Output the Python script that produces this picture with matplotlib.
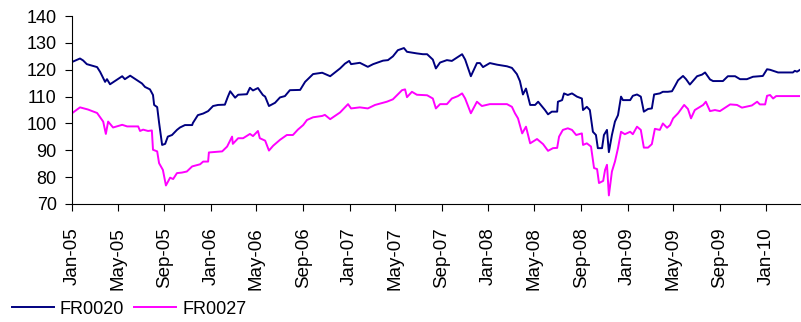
import matplotlib
matplotlib.use("Agg")
import matplotlib.pyplot as plt
import matplotlib.dates as mdates
import pandas as pd

plt.rcParams['font.family'] = ['Liberation Sans', 'DejaVu Sans']

# weekly-ish closing prices of the two government bonds
fr0020_dates = [
    "2005-01-01", "2005-01-22", "2005-01-30", "2005-02-09", "2005-03-08", "2005-03-16",
    "2005-03-29", "2005-04-03", "2005-04-11", "2005-04-24", "2005-05-13", "2005-05-20",
    "2005-06-03", "2005-06-21", "2005-07-04", "2005-07-12", "2005-07-25", "2005-08-02",
    "2005-08-05", "2005-08-13", "2005-08-18", "2005-08-26", "2005-09-03", "2005-09-10",
    "2005-09-21", "2005-10-04", "2005-10-12", "2005-10-25", "2005-11-13", "2005-11-15",
    "2005-11-28", "2005-12-12", "2005-12-25", "2006-01-07", "2006-01-20", "2006-02-07",
    "2006-02-15", "2006-02-21", "2006-03-06", "2006-03-14", "2006-04-06", "2006-04-14",
    "2006-04-22", "2006-05-05", "2006-05-18", "2006-05-24", "2006-06-03", "2006-06-19",
    "2006-07-02", "2006-07-15", "2006-07-28", "2006-08-24", "2006-09-06", "2006-09-27",
    "2006-10-21", "2006-11-11", "2006-12-07", "2006-12-20", "2006-12-31", "2007-01-05",
    "2007-01-28", "2007-02-18", "2007-03-04", "2007-03-30", "2007-04-12", "2007-04-25",
    "2007-05-08", "2007-05-24", "2007-06-01", "2007-06-27", "2007-07-13", "2007-07-24",
    "2007-08-08", "2007-08-16", "2007-08-27", "2007-09-14", "2007-09-27", "2007-10-11",
    "2007-10-24", "2007-11-01", "2007-11-16", "2007-12-02", "2007-12-10", "2007-12-18",
    "2008-01-05", "2008-01-24", "2008-02-19", "2008-03-03", "2008-03-16", "2008-03-24",
    "2008-04-01", "2008-04-09", "2008-04-20", "2008-05-03", "2008-05-11", "2008-05-29",
    "2008-06-06", "2008-06-16", "2008-06-30", "2008-07-02", "2008-07-13", "2008-07-18",
    "2008-07-28", "2008-08-08", "2008-08-21", "2008-09-03", "2008-09-06", "2008-09-16",
    "2008-09-24", "2008-10-02", "2008-10-10", "2008-10-15", "2008-10-26", "2008-10-31",
    "2008-11-08", "2008-11-13", "2008-11-21", "2008-11-29", "2008-12-07", "2008-12-15",
    "2008-12-20", "2009-01-08", "2009-01-15", "2009-01-26", "2009-02-05", "2009-02-13",
    "2009-02-24", "2009-03-06", "2009-03-12", "2009-03-27", "2009-04-04", "2009-04-17",
    "2009-04-28", "2009-05-06", "2009-05-14", "2009-05-27", "2009-06-04", "2009-06-14",
    "2009-07-03", "2009-07-16", "2009-07-24", "2009-08-06", "2009-08-14", "2009-09-09",
    "2009-09-22", "2009-10-11", "2009-10-24", "2009-11-11", "2009-11-27", "2009-12-23",
    "2010-01-03", "2010-01-11", "2010-02-01", "2010-03-12", "2010-03-17", "2010-03-23",
    "2010-03-31",
]
fr0020 = [
    122.9, 124.2, 123.5, 122.1, 121.0, 119.2,
    115.5, 116.5, 114.6, 115.8, 117.6, 116.5,
    117.8, 116.1, 114.9, 113.6, 112.7, 110.6,
    106.9, 106.1, 100.3, 92.0, 92.4, 95.1,
    95.7, 97.6, 98.5, 99.4, 99.4, 100.2,
    103.1, 103.7, 104.6, 106.5, 106.9, 107.0,
    110.0, 112.0, 109.6, 110.7, 110.9, 113.3,
    112.3, 113.2, 110.6, 110.0, 106.5, 107.7,
    109.7, 110.2, 112.4, 112.5, 115.5, 118.4,
    118.9, 117.6, 120.5, 122.3, 123.3, 122.1,
    122.6, 121.1, 122.1, 123.4, 123.6, 125.0,
    127.3, 128.1, 126.7, 126.1, 125.8, 125.8,
    123.8, 120.5, 122.7, 123.6, 123.3, 124.6,
    125.8, 123.8, 117.6, 122.5, 122.5, 121.0,
    122.5, 121.9, 121.3, 120.7, 118.4, 115.8,
    110.8, 113.0, 106.9, 106.9, 108.1, 105.0,
    103.4, 104.4, 104.4, 108.1, 108.7, 111.2,
    110.6, 111.2, 110.0, 109.3, 105.0, 106.2,
    105.0, 96.9, 95.7, 90.8, 90.8, 95.7,
    97.6, 89.3, 95.7, 100.7, 103.1, 110.0,
    108.7, 108.7, 110.3, 110.8, 110.0, 104.4,
    105.4, 105.6, 110.8, 111.2, 111.8, 111.8,
    112.0, 114.0, 116.1, 117.7, 116.5, 114.5,
    117.6, 118.2, 119.0, 116.4, 115.8, 115.8,
    117.6, 117.6, 116.5, 116.5, 117.4, 117.7,
    120.2, 120.0, 119.0, 119.0, 119.6, 119.3,
    120.0,
]

fr0027_dates = [
    "2005-01-01", "2005-01-22", "2005-02-12", "2005-03-08", "2005-03-16", "2005-03-24",
    "2005-03-31", "2005-04-06", "2005-04-19", "2005-05-13", "2005-05-26", "2005-06-24",
    "2005-06-29", "2005-07-07", "2005-07-20", "2005-07-30", "2005-08-02", "2005-08-13",
    "2005-08-18", "2005-08-28", "2005-09-05", "2005-09-16", "2005-09-24", "2005-10-04",
    "2005-10-17", "2005-10-30", "2005-11-13", "2005-12-04", "2005-12-12", "2005-12-25",
    "2005-12-27", "2006-01-31", "2006-02-13", "2006-02-26", "2006-02-28", "2006-03-14",
    "2006-03-27", "2006-04-14", "2006-04-22", "2006-05-05", "2006-05-10", "2006-05-24",
    "2006-06-03", "2006-06-14", "2006-07-02", "2006-07-20", "2006-08-05", "2006-08-18",
    "2006-09-01", "2006-09-11", "2006-09-27", "2006-10-21", "2006-10-28", "2006-11-11",
    "2006-12-07", "2006-12-28", "2007-01-05", "2007-01-28", "2007-02-18", "2007-03-09",
    "2007-04-09", "2007-04-25", "2007-05-19", "2007-05-27", "2007-06-01", "2007-06-14",
    "2007-06-27", "2007-07-24", "2007-08-08", "2007-08-16", "2007-08-27", "2007-09-14",
    "2007-09-27", "2007-10-13", "2007-10-24", "2007-11-01", "2007-11-16", "2007-12-02",
    "2007-12-15", "2008-01-05", "2008-02-19", "2008-03-03", "2008-03-11", "2008-03-19",
    "2008-03-30", "2008-04-09", "2008-04-20", "2008-05-08", "2008-05-24", "2008-06-06",
    "2008-06-19", "2008-06-30", "2008-07-05", "2008-07-15", "2008-07-28", "2008-08-08",
    "2008-08-19", "2008-09-03", "2008-09-06", "2008-09-16", "2008-09-27", "2008-10-05",
    "2008-10-13", "2008-10-18", "2008-10-29", "2008-11-03", "2008-11-08", "2008-11-13",
    "2008-11-21", "2008-11-29", "2008-12-07", "2008-12-15", "2008-12-25", "2009-01-08",
    "2009-01-15", "2009-01-26", "2009-02-05", "2009-02-13", "2009-02-24", "2009-03-06",
    "2009-03-14", "2009-03-27", "2009-04-04", "2009-04-15", "2009-04-23", "2009-05-01",
    "2009-05-14", "2009-05-30", "2009-06-09", "2009-06-17", "2009-06-27", "2009-07-19",
    "2009-07-26", "2009-08-06", "2009-08-19", "2009-09-01", "2009-09-28", "2009-10-16",
    "2009-10-29", "2009-11-11", "2009-11-24", "2009-12-08", "2009-12-15", "2009-12-29",
    "2010-01-03", "2010-01-11", "2010-01-19", "2010-01-27", "2010-03-31",
]
fr0027 = [
    103.8, 106.0, 105.2, 103.9, 102.3, 100.7,
    96.1, 100.7, 98.5, 99.5, 98.9, 98.9,
    97.2, 97.7, 97.2, 97.4, 90.2, 89.6,
    85.2, 82.7, 76.9, 79.8, 79.3, 81.5,
    81.7, 82.1, 84.0, 84.8, 85.8, 85.8,
    89.2, 89.6, 91.4, 95.1, 92.4, 94.5,
    94.5, 96.1, 95.3, 97.2, 94.5, 93.6,
    89.9, 91.7, 93.9, 95.7, 95.7, 97.7,
    99.4, 101.3, 102.3, 102.8, 103.2, 101.6,
    104.1, 107.2, 105.6, 106.0, 105.6, 106.9,
    108.1, 109.0, 112.4, 112.7, 109.8, 111.8,
    110.7, 110.5, 109.3, 105.6, 107.2, 107.2,
    109.3, 110.2, 111.2, 109.3, 103.8, 108.1,
    106.5, 107.2, 107.2, 106.2, 103.8, 101.9,
    96.3, 98.8, 92.6, 94.2, 92.3, 89.8,
    90.8, 90.9, 95.1, 97.6, 98.2, 97.6,
    95.7, 96.3, 92.0, 92.6, 91.4, 83.4,
    83.0, 77.8, 78.6, 82.7, 84.6, 73.2,
    82.1, 85.8, 90.8, 96.9, 96.0, 96.9,
    96.0, 98.8, 97.6, 91.0, 91.0, 92.3,
    98.0, 97.6, 100.0, 98.4, 99.4, 101.9,
    103.8, 106.9, 105.4, 101.9, 105.0, 106.9,
    108.1, 104.6, 105.0, 104.6, 107.1, 106.9,
    105.9, 106.3, 106.7, 108.1, 107.1, 107.1,
    110.3, 110.6, 109.3, 110.2, 110.2,
]

fig = plt.figure(figsize=(8.01, 3.22), dpi=100)
ax = fig.add_axes([0.0899, 0.3665, 0.909, 0.5835])

ax.plot(pd.to_datetime(fr0020_dates), fr0020, color="#000080", lw=1.4, label="FR0020")
ax.plot(pd.to_datetime(fr0027_dates), fr0027, color="#ff00ff", lw=1.4, label="FR0027")

ax.set_ylim(70, 140)
ax.set_yticks(range(70, 141, 10))
ax.set_xlim(pd.Timestamp("2005-01-01"), pd.Timestamp("2010-03-31"))
ax.xaxis.set_major_locator(mdates.MonthLocator(bymonth=[1, 5, 9]))
ax.xaxis.set_major_formatter(mdates.DateFormatter("%b-%y"))
ax.tick_params(axis="x", labelrotation=90, labelsize=13.5, length=5, pad=12, width=0.8)
ax.tick_params(axis="y", labelsize=13, length=5, pad=6, width=0.8)

for side in ["top", "right"]:
    ax.spines[side].set_visible(False)
for side in ["left", "bottom"]:
    ax.spines[side].set_linewidth(0.8)

fig.legend(loc="center left", bbox_to_anchor=(0.015, 0.04), ncol=2,
           frameon=False, fontsize=13, borderpad=0, borderaxespad=0,
           handlelength=2.3, handletextpad=0.35, columnspacing=0.55)

fig.savefig("out.png", dpi=100)
